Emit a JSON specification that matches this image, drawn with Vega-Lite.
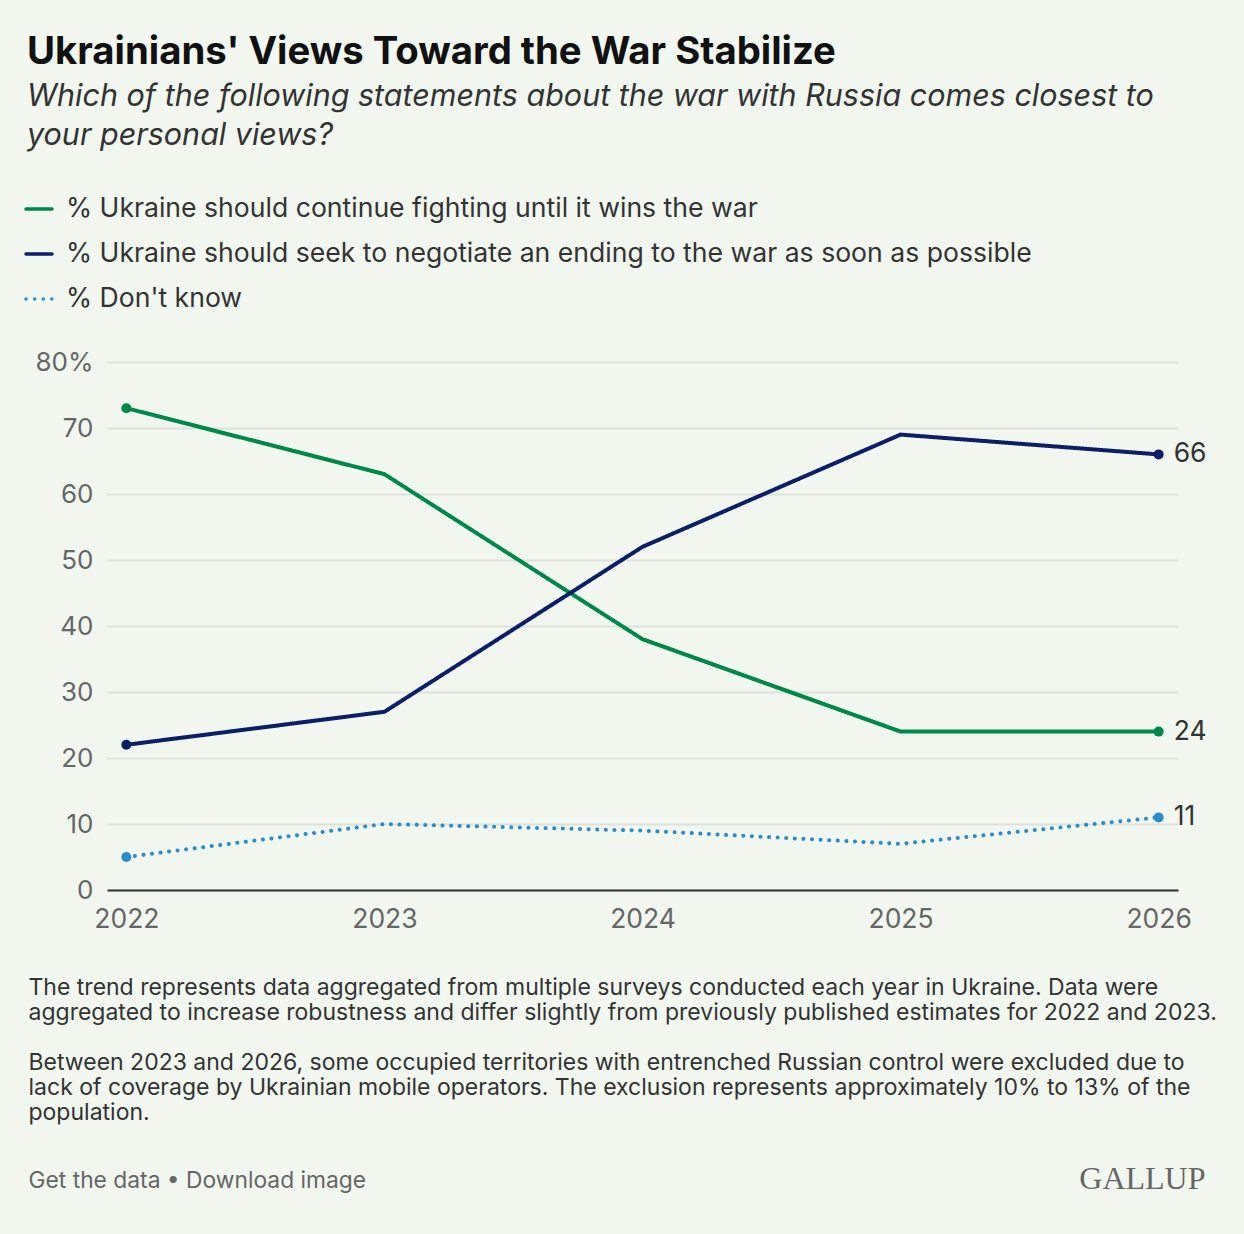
{
  "$schema": "https://vega.github.io/schema/vega-lite/v6.json",
  "autosize": "none",
  "width": 1071,
  "height": 528,
  "padding": {"left": 107, "top": 362, "right": 66, "bottom": 344},
  "background": "#f1f7ef",
  "config": {
    "view": {"stroke": null},
    "font": "Inter"
  },
  "title": {
    "text": "Ukrainians' Views Toward the War Stabilize",
    "subtitle": ["Which of the following statements about the war with Russia comes closest to", "your personal views?"],
    "anchor": "start",
    "dx": 3,
    "offset": 42,
    "fontSize": 38.3,
    "fontWeight": "bold",
    "color": "#111111",
    "subtitleFontSize": 30.5,
    "subtitleFontStyle": "italic",
    "subtitleColor": "#333333",
    "subtitleLineHeight": 39,
    "subtitlePadding": 9
  },
  "data": {
    "values": [
      {"year": "2022", "series": "% Ukraine should continue fighting until it wins the war", "value": 73},
      {"year": "2023", "series": "% Ukraine should continue fighting until it wins the war", "value": 63},
      {"year": "2024", "series": "% Ukraine should continue fighting until it wins the war", "value": 38},
      {"year": "2025", "series": "% Ukraine should continue fighting until it wins the war", "value": 24},
      {"year": "2026", "series": "% Ukraine should continue fighting until it wins the war", "value": 24},
      {"year": "2022", "series": "% Ukraine should seek to negotiate an ending to the war as soon as possible", "value": 22},
      {"year": "2023", "series": "% Ukraine should seek to negotiate an ending to the war as soon as possible", "value": 27},
      {"year": "2024", "series": "% Ukraine should seek to negotiate an ending to the war as soon as possible", "value": 52},
      {"year": "2025", "series": "% Ukraine should seek to negotiate an ending to the war as soon as possible", "value": 69},
      {"year": "2026", "series": "% Ukraine should seek to negotiate an ending to the war as soon as possible", "value": 66},
      {"year": "2022", "series": "% Don't know", "value": 5},
      {"year": "2023", "series": "% Don't know", "value": 10},
      {"year": "2024", "series": "% Don't know", "value": 9},
      {"year": "2025", "series": "% Don't know", "value": 7},
      {"year": "2026", "series": "% Don't know", "value": 11}
    ]
  },
  "encoding": {
    "x": {
      "field": "year",
      "type": "ordinal",
      "scale": {"type": "point", "padding": 0.075},
      "axis": {
        "labelAngle": 0,
        "labelFontSize": 26.5,
        "labelColor": "#666666",
        "labelPadding": 16,
        "ticks": false,
        "domainColor": "#333333",
        "domainWidth": 2,
        "grid": false,
        "title": [
          "The trend represents data aggregated from multiple surveys conducted each year in Ukraine. Data were",
          "aggregated to increase robustness and differ slightly from previously published estimates for 2022 and 2023."
        ],
        "titleFontSize": 23,
        "titleFontWeight": "normal",
        "titleColor": "#333333",
        "titleLineHeight": 25,
        "titleAnchor": "start",
        "titleAlign": "left",
        "titleBaseline": "top",
        "titleX": -79,
        "titleY": 86
      }
    },
    "y": {
      "field": "value",
      "type": "quantitative",
      "scale": {"domain": [0, 80]}
    },
    "color": {
      "field": "series",
      "type": "nominal",
      "scale": {
        "domain": [
          "% Ukraine should continue fighting until it wins the war",
          "% Ukraine should seek to negotiate an ending to the war as soon as possible",
          "% Don't know"
        ],
        "range": ["#00874a", "#0a1f66", "#2a8cc8"]
      },
      "legend": {
        "orient": "none",
        "legendX": -83,
        "legendY": -168,
        "direction": "vertical",
        "title": null,
        "padding": 0,
        "symbolType": "stroke",
        "symbolSize": 676,
        "symbolStrokeWidth": 3.5,
        "labelFontSize": 26.6,
        "labelColor": "#333333",
        "labelOffset": 12,
        "labelLimit": 1100,
        "rowPadding": 16,
        "encode": {"symbols": {"update": {"strokeCap": {"value": "round"}}}}
      }
    },
    "strokeDash": {
      "field": "series",
      "type": "nominal",
      "scale": {
        "domain": [
          "% Ukraine should continue fighting until it wins the war",
          "% Ukraine should seek to negotiate an ending to the war as soon as possible",
          "% Don't know"
        ],
        "range": [[1, 0], [1, 0], [0.1, 8.5]]
      }
    }
  },
  "layer": [
    {
      "mark": {"type": "line", "strokeWidth": 4, "strokeCap": "round", "strokeJoin": "round"},
      "encoding": {
        "y": {
          "field": "value",
          "type": "quantitative",
          "axis": {
            "values": [0, 10, 20, 30, 40, 50, 60, 70, 80],
            "labelExpr": "datum.value == 80 ? '80%' : datum.label",
            "labelFontSize": 26,
            "labelColor": "#666666",
            "labelPadding": 14,
            "ticks": false,
            "domain": false,
            "gridColor": "#dde2dc",
            "gridWidth": 2,
            "title": "Get the data • Download image",
            "titleAngle": 0,
            "titleFontSize": 22.8,
            "titleFontWeight": "normal",
            "titleColor": "#666666",
            "titleAlign": "left",
            "titleBaseline": "alphabetic",
            "titleX": -79,
            "titleY": 825
          }
        }
      }
    },
    {
      "transform": [{"filter": "datum.year == '2022' || datum.year == '2026'"}],
      "mark": {"type": "point", "filled": true, "opacity": 1, "size": 100},
      "encoding": {
        "y": {
          "field": "value",
          "type": "quantitative",
          "axis": {
            "orient": "left",
            "labels": false,
            "ticks": false,
            "domain": false,
            "grid": false,
            "title": [
              "Between 2023 and 2026, some occupied territories with entrenched Russian control were excluded due to",
              "lack of coverage by Ukrainian mobile operators. The exclusion represents approximately 10% to 13% of the",
              "population."
            ],
            "titleAngle": 0,
            "titleFontSize": 23,
            "titleFontWeight": "normal",
            "titleColor": "#333333",
            "titleLineHeight": 25,
            "titleAlign": "left",
            "titleBaseline": "top",
            "titleX": -79,
            "titleY": 689
          }
        },
        "strokeDash": {"value": [1, 0]}
      }
    },
    {
      "transform": [{"filter": "datum.year == '2026'"}],
      "mark": {"type": "text", "align": "left", "baseline": "middle", "dx": 15, "fontSize": 26.5, "color": "#333333"},
      "encoding": {
        "text": {"field": "value", "type": "quantitative"},
        "color": {"value": "#333333"},
        "strokeDash": {"value": [1, 0]},
        "y": {
          "field": "value",
          "type": "quantitative",
          "axis": {
            "orient": "right",
            "labels": false,
            "ticks": false,
            "domain": false,
            "grid": false,
            "title": "GALLUP",
            "titleAngle": 0,
            "titleFont": "Liberation Serif",
            "titleFontSize": 32,
            "titleFontWeight": "normal",
            "titleColor": "#666666",
            "titleAlign": "right",
            "titleBaseline": "alphabetic",
            "titleX": 27,
            "titleY": 826
          }
        }
      }
    }
  ],
  "resolve": {"axis": {"y": "independent"}}
}
